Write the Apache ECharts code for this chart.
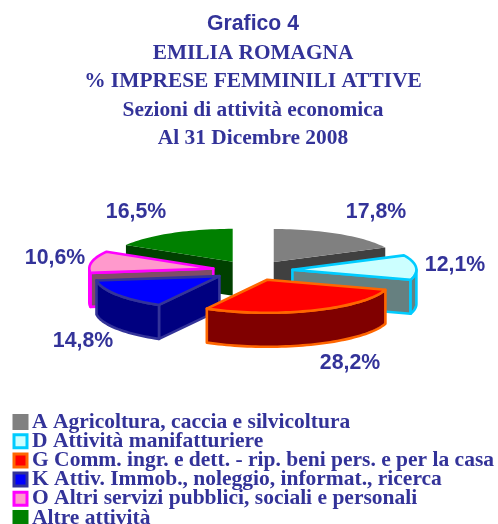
<!DOCTYPE html>
<html><head><meta charset="utf-8">
<style>html,body{margin:0;padding:0;background:#fff}#c{width:498px;height:524px;overflow:hidden}</style>
<script src="https://cdn.jsdelivr.net/npm/echarts@6/dist/echarts.min.js"></script>
</head><body><div id="c"></div>
<script>
const categories = [
  'A Agricoltura, caccia e silvicoltura',
  'D Attività manifatturiere',
  'G Comm. ingr. e dett. - rip. beni pers. e per la casa',
  'K Attiv. Immob., noleggio, informat., ricerca',
  'O Altri servizi pubblici, sociali e personali',
  'Altre attività'
];
const values = [17.8, 12.1, 28.2, 14.8, 10.6, 16.5];
const titles = ['Grafico 4', 'EMILIA ROMAGNA', '% IMPRESE FEMMINILI ATTIVE', 'Sezioni di attività economica', 'Al 31 Dicembre 2008'];

// styling
const INK = '#333399';
const topColors  = ['#808080', '#ccffff', '#ff0000', '#0000ff', '#ff99cc', '#008000'];
const wallColors = ['#404040', '#668080', '#800000', '#000080', '#804d66', '#004000'];
const borders    = ['#808080', '#00ccff', '#ff6600', '#333399', '#ff00ff', '#008000'];
const borderW    = [0, 2.6, 2.6, 2.6, 2.6, 0];
const labelPos   = [[376,212],[455,265],[350,363],[83,341],[55,258],[136,212]];
const titleRows  = [
  {y:24, family:'Liberation Sans',  size:21.2},
  {y:53, family:'Liberation Serif', size:21.3},
  {y:81, family:'Liberation Serif', size:21.4},
  {y:110,family:'Liberation Serif', size:21.4},
  {y:138,family:'Liberation Serif', size:21.4}
];
// projection
const CX = 252.5, CY = 270.5, RX = 124, RY = 33, DEPTH = 34, EXP_X = 40, EXP_Y = 10;
const LEGEND_TOP = 411, LEGEND_PITCH = 19.2;

const total = values.reduce((a,b)=>a+b,0);
const rad = d => d*Math.PI/180;
let acc = 0;
const spans = values.map(v => { const s = acc/total*360; acc += v; return [s, acc/total*360]; });

function polyEl(points, fill, stroke, lw){
  return {type:'polygon', shape:{points}, style:{fill, stroke: lw?stroke:null, lineWidth:lw, lineJoin:'round'}};
}
function renderSlice(i){
  return function(){
    const [a0,a1] = spans[i], mid = (a0+a1)/2;
    const ox = CX + EXP_X*Math.sin(rad(mid)), oy = CY - EXP_Y*Math.cos(rad(mid));
    const at = (d,dz=0)=>[ox+RX*Math.sin(rad(d)), oy-RY*Math.cos(rad(d))+dz];
    const arc = (s,e,dz=0)=>{const p=[];const n=Math.max(2,Math.ceil((e-s)/2));
      for(let k=0;k<=n;k++)p.push(at(s+(e-s)*k/n,dz));return p;};
    const kids=[]; const fillW=wallColors[i], b=borders[i], lw=borderW[i];
    const cut = d => polyEl([[ox,oy],at(d),at(d,DEPTH),[ox,oy+DEPTH]],fillW,b,lw);
    if(Math.sin(rad(a0))<-1e-6) kids.push(cut(a0));
    if(Math.sin(rad(a1))>1e-6) kids.push(cut(a1));
    const f0=Math.max(a0,90), f1=Math.min(a1,270);
    if(f1>f0) kids.push(polyEl(arc(f0,f1).concat(arc(f0,f1,DEPTH).reverse()),fillW,b,lw));
    kids.push(polyEl([[ox,oy]].concat(arc(a0,a1)),topColors[i],b,lw));
    kids.push({type:'text',style:{text:values[i].toFixed(1).replace('.',',')+'%',x:labelPos[i][0],y:labelPos[i][1],
      font:'bold 21.3px "Liberation Sans"',fill:INK,align:'center',verticalAlign:'middle'}});
    return {type:'group',children:kids};
  };
}
const chart = echarts.init(document.getElementById('c'),null,{renderer:'canvas'});
chart.setOption({
  animation:false,
  backgroundColor:'#fff',
  title:titles.map((t,i)=>({text:t,left:253,top:titleRows[i].y,textAlign:'center',textVerticalAlign:'middle',padding:0,
    textStyle:{color:INK, fontWeight:'bold', fontFamily:titleRows[i].family, fontSize:titleRows[i].size}})),
  legend:categories.map((n,i)=>({
    left:12.5, top:LEGEND_TOP+LEGEND_PITCH*i, height:40, width:490, padding:0, orient:'vertical', itemWidth:13, itemHeight:13, selectedMode:false,
    textStyle:{color:INK,fontFamily:'Liberation Serif',fontWeight:'bold',fontSize:21.5,padding:[3,0,0,0]},
    data:[{name:n,icon:'rect',itemStyle:{color:topColors[i],borderColor:borders[i],borderWidth:3}}]
  })),
  series:categories.map((n,i)=>({
    type:'custom', name:n, coordinateSystem:'none', silent:true,
    z: 10 + Math.round((1-Math.cos(rad((spans[i][0]+spans[i][1])/2)))*10),
    itemStyle:{color:topColors[i]},
    data:[[values[i]]],
    renderItem:renderSlice(i)
  }))
});
</script></body></html>
